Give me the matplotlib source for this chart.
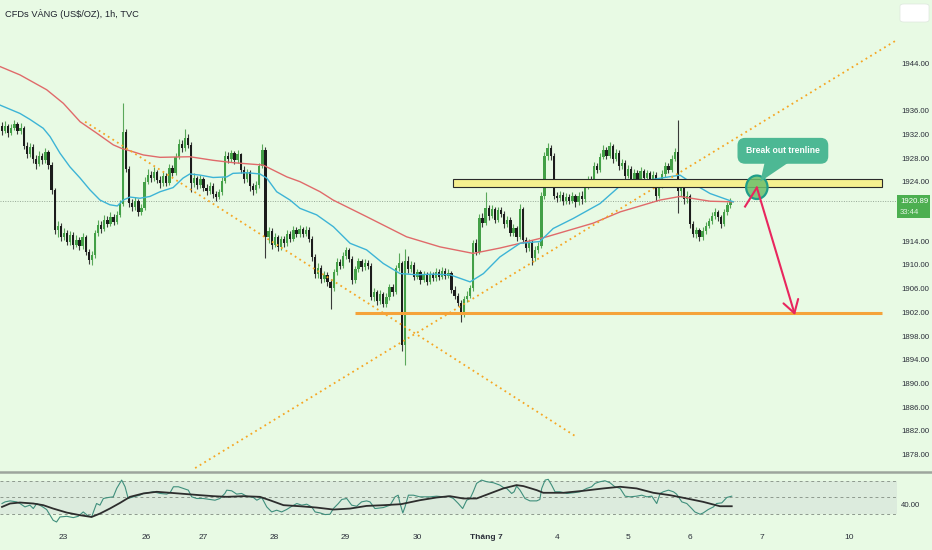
import numpy as np
import matplotlib.pyplot as plt
from matplotlib.patches import Rectangle, Ellipse, FancyBboxPatch, Polygon
from matplotlib.transforms import blended_transform_factory

plt.rcParams['font.family'] = ['Liberation Sans', 'DejaVu Sans']

# ---- hourly candles (index = hour bar) ----
first_open = 1933.6
closes = [
    1932.8, 1933.6, 1932.4, 1933.2, 1933.9, 1932.7, 1933.3, 1930.2, 1928.9, 1930.1,
    1928.0, 1927.1, 1928.6, 1927.8, 1929.2, 1927.0, 1922.8, 1916.0, 1916.8, 1914.9,
    1915.6, 1914.1, 1915.2, 1913.6, 1914.4, 1913.3, 1914.8, 1912.4, 1911.0, 1911.8,
    1915.5, 1916.9, 1916.2, 1917.8, 1917.1, 1918.3, 1917.4, 1918.6, 1920.5, 1932.6,
    1926.4, 1920.6, 1920.0, 1920.9, 1919.0, 1919.8, 1924.2, 1925.4, 1924.8, 1925.8,
    1924.5, 1923.9, 1925.2, 1924.0, 1926.5, 1925.7, 1928.4, 1930.6, 1929.8, 1931.5,
    1930.4, 1924.0, 1924.8, 1923.6, 1924.7, 1923.2, 1922.6, 1923.5, 1922.1, 1921.6,
    1922.4, 1924.3, 1928.6, 1928.0, 1929.0, 1927.8, 1928.8, 1926.2, 1924.6, 1925.8,
    1923.4, 1922.8, 1923.6, 1926.9, 1929.5, 1914.8, 1915.9, 1913.6, 1914.8, 1913.2,
    1914.5, 1913.8, 1915.4, 1914.6, 1916.0, 1915.3, 1916.2, 1915.4, 1916.1, 1914.6,
    1911.5, 1908.6, 1909.7, 1907.8, 1908.5, 1907.3, 1906.2, 1908.9, 1910.7, 1910.0,
    1911.6, 1912.6, 1911.2, 1907.6, 1909.4, 1910.8, 1909.8, 1910.5, 1910.0, 1904.8,
    1905.6, 1904.1, 1905.2, 1903.6, 1904.7, 1906.4, 1905.6, 1909.6, 1910.4, 1896.6,
    1910.9, 1909.4, 1910.2, 1908.2, 1908.9, 1907.6, 1908.5, 1907.3, 1908.6, 1907.9,
    1909.0, 1908.1, 1909.2, 1908.3, 1908.8, 1906.0, 1905.0, 1903.8, 1901.8, 1904.4,
    1905.0, 1906.2, 1913.8, 1912.4, 1918.0, 1917.2, 1919.8, 1918.4, 1919.6, 1917.8,
    1919.4, 1918.8, 1917.0, 1917.8, 1915.6, 1916.4, 1914.8, 1919.6, 1914.4, 1913.0,
    1914.0, 1911.4, 1912.6, 1913.4, 1921.8, 1928.5, 1929.8, 1928.6, 1921.8, 1921.4,
    1922.0, 1920.9, 1921.6, 1921.0, 1921.8, 1920.8, 1921.7, 1921.2, 1923.4, 1924.6,
    1924.0, 1926.8, 1926.2, 1928.4, 1929.5, 1928.6, 1930.2, 1928.0, 1929.1, 1926.8,
    1927.4, 1925.2, 1926.4, 1924.6, 1925.7, 1924.2, 1926.0, 1924.8, 1925.6, 1924.4,
    1925.4, 1921.8, 1923.5, 1925.5, 1926.8, 1926.2, 1928.0, 1929.2, 1922.6, 1923.4,
    1921.2, 1921.8, 1917.0, 1915.4, 1916.0, 1914.8, 1915.9, 1916.8, 1917.5, 1918.4,
    1919.1, 1918.2, 1917.0, 1919.0, 1920.2, 1920.89,
]
highs = [
    1934.3, 1934.4, 1934.0, 1933.9, 1934.6, 1934.3, 1934.1, 1933.6, 1930.9, 1930.8,
    1930.5, 1928.7, 1929.3, 1929.0, 1929.8, 1929.6, 1927.5, 1923.2, 1917.6, 1917.3,
    1916.4, 1916.0, 1915.9, 1915.7, 1915.2, 1914.9, 1915.6, 1915.2, 1912.9, 1912.5,
    1916.1, 1917.8, 1917.5, 1918.5, 1918.4, 1919.0, 1918.8, 1919.3, 1921.1, 1937.4,
    1933.1, 1926.9, 1921.3, 1921.6, 1921.3, 1920.5, 1924.9, 1926.3, 1926.0, 1926.6,
    1926.2, 1925.1, 1925.9, 1925.6, 1927.2, 1927.0, 1929.0, 1931.4, 1931.3, 1933.0,
    1932.2, 1930.9, 1925.6, 1925.2, 1925.3, 1925.0, 1923.8, 1924.1, 1923.9, 1922.7,
    1923.0, 1925.0, 1929.3, 1929.2, 1929.6, 1929.4, 1929.5, 1929.1, 1926.8, 1926.4,
    1926.1, 1924.0, 1924.3, 1927.4, 1930.6, 1930.0, 1916.6, 1916.3, 1915.5, 1915.2,
    1915.1, 1915.0, 1916.1, 1915.9, 1916.7, 1916.5, 1916.9, 1916.6, 1916.8, 1916.5,
    1915.0, 1912.0, 1910.4, 1910.1, 1909.2, 1908.9, 1907.8, 1909.5, 1911.3, 1911.2,
    1912.3, 1913.2, 1913.0, 1911.6, 1910.0, 1911.4, 1911.2, 1911.1, 1911.0, 1910.4,
    1906.3, 1906.0, 1905.9, 1905.6, 1905.4, 1907.0, 1906.9, 1910.2, 1912.1, 1910.9,
    1912.9, 1911.6, 1910.8, 1910.6, 1909.5, 1909.3, 1909.1, 1908.9, 1909.2, 1909.0,
    1909.6, 1909.4, 1909.8, 1909.6, 1909.4, 1909.2, 1906.6, 1905.5, 1904.3, 1905.0,
    1905.7, 1906.8, 1914.4, 1914.6, 1918.8, 1918.9, 1922.5, 1920.3, 1920.2, 1920.0,
    1920.0, 1919.9, 1919.2, 1918.4, 1918.2, 1917.0, 1916.8, 1920.4, 1919.9, 1914.9,
    1914.6, 1914.4, 1913.3, 1914.1, 1922.4, 1929.2, 1930.8, 1930.3, 1929.0, 1922.4,
    1922.7, 1922.4, 1922.3, 1922.1, 1922.5, 1922.2, 1922.4, 1922.6, 1924.0, 1925.2,
    1925.1, 1927.5, 1927.4, 1929.0, 1930.3, 1930.0, 1930.9, 1930.6, 1929.7, 1929.5,
    1928.1, 1927.8, 1927.0, 1926.8, 1926.3, 1926.1, 1926.6, 1926.4, 1926.2, 1926.0,
    1926.0, 1925.8, 1924.1, 1926.1, 1927.5, 1927.4, 1928.7, 1929.9, 1934.6, 1924.0,
    1923.8, 1922.6, 1922.2, 1917.5, 1916.6, 1916.4, 1916.5, 1917.4, 1918.1, 1919.0,
    1919.7, 1919.5, 1918.6, 1919.6, 1920.8, 1921.4,
]
lows = [
    1932.1, 1932.4, 1931.8, 1932.0, 1932.9, 1932.2, 1932.3, 1929.7, 1928.2, 1928.4,
    1927.4, 1926.3, 1926.8, 1927.2, 1927.4, 1926.4, 1922.2, 1915.3, 1914.9, 1914.2,
    1914.3, 1913.5, 1913.6, 1912.9, 1913.1, 1912.7, 1912.9, 1911.8, 1910.3, 1910.1,
    1911.4, 1915.0, 1915.6, 1915.8, 1916.5, 1916.7, 1916.9, 1917.0, 1918.2, 1920.1,
    1925.8, 1920.0, 1919.3, 1919.4, 1918.4, 1918.6, 1919.4, 1923.8, 1924.1, 1924.3,
    1923.9, 1923.2, 1923.5, 1923.4, 1923.6, 1925.1, 1925.3, 1928.0, 1929.2, 1929.4,
    1929.8, 1922.5, 1923.3, 1923.0, 1923.1, 1922.6, 1921.9, 1922.2, 1921.5, 1920.9,
    1921.2, 1922.0, 1924.0, 1927.3, 1927.5, 1927.2, 1927.4, 1925.6, 1924.0, 1924.1,
    1922.7, 1922.0, 1922.3, 1923.2, 1926.5, 1911.3, 1913.9, 1912.8, 1913.1, 1912.5,
    1912.7, 1913.2, 1913.4, 1914.0, 1914.2, 1914.8, 1914.9, 1914.8, 1915.0, 1914.0,
    1910.9, 1907.9, 1908.0, 1907.1, 1907.2, 1906.6, 1902.7, 1905.8, 1908.4, 1909.4,
    1909.6, 1911.1, 1910.6, 1907.0, 1907.1, 1909.0, 1909.2, 1909.3, 1909.4, 1904.2,
    1904.1, 1903.4, 1903.6, 1903.0, 1903.1, 1904.2, 1905.0, 1905.2, 1909.1, 1895.6,
    1893.3, 1908.8, 1908.9, 1907.6, 1907.7, 1907.0, 1907.2, 1906.8, 1906.9, 1907.4,
    1907.5, 1907.6, 1907.8, 1907.8, 1907.9, 1905.4, 1904.4, 1903.2, 1900.5, 1901.4,
    1903.9, 1904.6, 1905.8, 1911.8, 1912.0, 1916.6, 1916.9, 1917.8, 1918.0, 1917.2,
    1917.4, 1918.2, 1916.4, 1916.5, 1915.0, 1915.1, 1914.2, 1914.5, 1913.8, 1912.4,
    1912.5, 1910.1, 1910.8, 1912.2, 1913.0, 1921.2, 1927.9, 1927.9, 1921.2, 1920.7,
    1920.9, 1920.3, 1920.4, 1920.4, 1920.6, 1919.9, 1920.3, 1920.5, 1920.8, 1922.9,
    1923.4, 1923.6, 1925.6, 1925.8, 1928.0, 1928.0, 1928.2, 1927.4, 1927.6, 1926.2,
    1926.3, 1924.6, 1924.8, 1924.0, 1924.2, 1923.6, 1923.8, 1924.2, 1924.3, 1923.8,
    1924.0, 1921.0, 1921.4, 1923.1, 1925.0, 1925.6, 1925.8, 1927.6, 1918.9, 1921.8,
    1920.5, 1920.6, 1916.4, 1914.8, 1914.7, 1914.2, 1914.4, 1915.4, 1916.3, 1917.1,
    1917.9, 1917.6, 1916.4, 1916.7, 1918.6, 1919.8,
]

# ---- moving averages (read at bar positions) ----
ma_slow_x = [-0.6, 5.8, 14.4, 19.8, 25.2, 30.5, 35.9, 38.6, 41.3, 45.6, 51.0, 60.6, 68.1,
             74.5, 84.2, 91.9, 96.1, 102.6, 106.8, 117.6, 130.5, 141.3, 152.0, 160.6,
             167.1, 175.7, 190.7, 199.4, 212.3, 218.7, 228.4, 235.8]
ma_slow_y = [1943.6, 1942.2, 1939.7, 1937.4, 1934.3, 1932.4, 1930.4, 1929.8, 1929.4, 1928.7,
             1928.3, 1928.4, 1927.8, 1927.4, 1927.0, 1925.0, 1924.2, 1922.5, 1921.1, 1918.3,
             1914.9, 1913.2, 1912.1, 1913.0, 1913.8, 1914.9, 1917.2, 1919.1, 1921.1, 1921.7,
             1920.9, 1920.8]
ma_fast_x = [-0.6, 5.8, 9.0, 13.3, 15.5, 18.7, 21.9, 25.2, 28.4, 31.6, 34.8, 37.2, 39.1,
             41.3, 44.5, 47.7, 51.0, 55.2, 58.4, 60.6, 63.9, 68.1, 72.5, 74.5, 79.0, 83.2,
             85.4, 88.6, 92.9, 96.1, 101.5, 106.9, 112.3, 117.6, 123.0, 128.4, 133.8,
             139.1, 144.5, 151.0, 155.3, 160.6, 167.1, 173.5, 177.8, 184.3, 192.9, 199.4,
             209.0, 218.7, 221.9, 228.4, 235.9]
ma_fast_y = [1937.1, 1935.7, 1934.7, 1933.2, 1931.8, 1929.0, 1926.7, 1924.8, 1922.8, 1921.1,
             1920.3, 1920.1, 1921.1, 1921.6, 1921.4, 1921.7, 1922.5, 1923.2, 1924.8, 1925.5,
             1925.3, 1924.9, 1925.0, 1925.6, 1925.7, 1925.5, 1924.8, 1922.5, 1921.1, 1919.7,
             1918.6, 1916.6, 1913.8, 1912.7, 1910.4, 1908.7, 1908.5, 1908.6, 1908.5, 1907.3,
             1908.7, 1911.5, 1913.8, 1914.1, 1916.3, 1918.0, 1920.5, 1923.5, 1924.5, 1925.3,
             1924.2, 1922.2, 1920.8]

# ---- RSI pane ----
rsi_x = [0, 1.0, 2.6, 4.7, 5.8, 7.4, 9.0, 10.1, 11.2, 12.8, 14.4, 15.5, 16.5, 17.6, 18.7,
         20.9, 23.0, 24.6, 26.2, 27.5, 28.9, 30.5, 31.6, 32.7, 34.3, 35.9, 37.0, 38.6,
         39.7, 40.7, 42.4, 44.5, 45.6, 47.2, 48.8, 51.0, 53.1, 54.2, 55.3, 56.9, 58.5,
         60.1, 61.2, 62.8, 64.9, 67.1, 68.7, 70.3, 71.9, 72.5, 74.1, 75.7, 77.3, 78.9,
         81.1, 82.2, 83.8, 85.4, 87.0, 88.6, 90.2, 91.8, 93.5, 95.1, 96.7, 98.3, 99.9,
         101.0, 102.6, 104.2, 105.8, 106.9, 108.5, 109.6, 111.2, 112.8, 114.4, 116.0,
         117.6, 118.7, 120.3, 123.0, 125.2, 126.8, 127.8, 128.4, 129.3, 130.0, 131.1,
         132.7, 134.8, 138.1, 140.2, 142.4, 144.0, 145.6, 147.2, 148.6, 149.9, 151.0,
         152.0, 153.1, 154.7, 156.4, 158.5, 160.6, 161.7, 162.8, 164.4, 165.2, 166.0,
         167.1, 168.7, 170.3, 172.5, 173.5, 174.1, 175.2, 176.2, 177.3, 178.4, 180.0,
         182.2, 184.3, 186.5, 188.6, 190.2, 191.3, 192.9, 194.5, 196.1, 197.7, 199.4,
         201.0, 202.6, 204.7, 206.4, 208.0, 209.6, 211.2, 212.3, 213.3, 215.0, 216.6,
         217.6, 219.3, 220.9, 222.5, 223.5, 225.2, 226.2, 227.8, 229.5, 230.5, 232.2,
         233.8, 235.4]
rsi_y = [42.7, 44.7, 45.9, 44.7, 42.7, 38.6, 40.7, 36.6, 42.7, 39.4, 35.4, 28.5, 22.4, 20.3,
         26.4, 27.2, 25.6, 27.2, 32.5, 28.5, 26.4, 42.7, 40.7, 48.8, 50.0, 50.8, 61.0, 71.1,
         63.0, 48.8, 50.8, 52.8, 54.9, 55.7, 56.9, 54.9, 54.1, 55.7, 63.0, 63.0, 61.0,
         58.9, 50.8, 48.8, 48.8, 47.6, 46.7, 48.8, 54.9, 58.9, 58.1, 54.1, 54.9, 51.6,
         50.0, 46.7, 50.0, 38.6, 32.5, 34.6, 32.5, 35.4, 39.4, 42.7, 40.7, 41.9, 38.6,
         32.5, 31.3, 29.3, 29.7, 36.6, 42.7, 47.6, 48.8, 40.7, 39.4, 44.7,
         45.9, 44.7, 36.6, 37.8, 40.7, 50.8, 52.8, 42.7, 31.3, 38.6, 52.8,
         52.8, 50.8, 50.8, 51.6, 50.8, 51.6, 48.8, 42.7, 36.6, 46.7, 48.8,
         56.9, 67.1, 71.1, 69.1, 67.9, 65.0, 62.2, 61.0, 54.9, 56.9, 63.8,
         58.9, 48.8, 45.9, 45.9, 47.6, 61.0, 71.1, 72.0, 65.0, 56.9, 56.9,
         54.9, 55.7, 56.9, 61.0, 63.0, 67.1, 69.1, 70.3, 67.9, 63.0, 61.0,
         51.6, 50.8, 51.6, 52.8, 50.8, 51.6, 42.7, 54.9, 56.9, 58.9, 56.9,
         54.1, 44.7, 42.7, 36.6, 32.5, 29.7, 31.3, 35.4, 38.6, 42.7, 43.5,
         50.0, 51.6]
rsi_ma_x = [0, 2.6, 5.8, 10.1, 13.3, 16.5, 20.9, 25.2, 28.9, 31.6, 34.8, 38.1, 41.3, 45.6,
            49.9, 54.2, 59.6, 63.9, 68.2, 72.5, 77.8, 83.2, 86.4, 90.8, 96.1, 101.5, 106.9,
            112.3, 117.6, 123.3, 128.7, 134.8, 140.2, 144.5, 148.8, 153.1, 157.4, 161.7,
            166.0, 168.2, 172.5, 174.6, 181.1, 187.5, 194.0, 199.4, 204.7, 210.1, 215.5,
            220.9, 226.2, 231.6, 235.4]
rsi_ma_y = [38.6, 42.7, 43.9, 42.7, 40.7, 36.6, 31.7, 28.5, 26.4, 30.5, 36.6, 43.5, 50.8, 54.9,
            56.9, 55.7, 54.1, 52.8, 51.6, 50.8, 51.6, 50.8, 46.7, 40.7, 39.4, 37.8, 35.4,
            36.6, 39.8, 40.7, 41.9, 46.7, 50.0, 51.6, 48.8, 48.8, 54.9, 61.0,
            65.0, 63.8, 58.9, 55.7, 55.7, 58.1, 61.0, 63.0, 61.0, 55.7, 52.8,
            48.8, 44.7, 39.4, 39.4]

day_pos = [19.7, 46.5, 64.8, 87.7, 110.6, 133.9, 156.1, 179.0, 201.9, 221.9, 245.2, 273.2]
day_labels = ['23', '26', '27', '28', '29', '30', 'Tháng 7', '4', '5', '6', '7', '10']
price_ticks = [1944, 1936, 1932, 1928, 1924, 1914, 1910, 1906, 1902, 1898, 1894, 1890, 1886, 1882, 1878]
last_price = 1920.89
countdown = '33:44'

# ---- drawings (bar index, price) ----
zone_x = [145.4, 283.8]
zone_y = [1923.35, 1924.65]
support_x = [113.9, 283.8]
support_y = 1902.0
trend_up_x, trend_up_y = [62.3, 288.7], [1875.9, 1948.1]
trend_dn_x, trend_dn_y = [26.8, 185.5], [1934.3, 1881.1]
arrow_x, arrow_y = [239.7, 243.5, 255.8], [1920.0, 1923.2, 1901.7]
circle_xy = (243.5, 1923.25)
note_xy = (251.9, 1929.4)
pointer_x, pointer_y = [246.1, 254.2, 244.6], [1927.6, 1927.6, 1924.2]

BG = '#e8fae4'
W, H = 932, 550
XL = (-0.645, 300.0)
AX_FS = 5.6

fig = plt.figure(figsize=(W / 100, H / 100), dpi=100, facecolor=BG)

ax = fig.add_axes([0, 78 / H, 1, 472 / H])
ax.set_facecolor(BG)
ax.set_xlim(*XL)
ax.set_ylim(1875.24, 1954.83)
for s in ax.spines.values():
    s.set_visible(False)
ax.set_xticks([])
ax.set_yticks([])

n = min(len(closes), len(highs), len(lows))
c = np.array(closes[:n])
o = np.array([first_open] + closes[:n - 1])
hi = np.maximum(np.array(highs[:n]), np.maximum(o, c))
lo = np.minimum(np.array(lows[:n]), np.minimum(o, c))
x = np.arange(n)
up = c >= o

ax.vlines(x, lo, hi, colors=np.where(up, '#5aa85a', '#3a3a3a'), lw=0.8, zorder=2)
ax.bar(x, np.maximum(np.abs(c - o), 0.12), bottom=np.minimum(o, c), width=0.72,
       color=np.where(up, '#43a047', '#1c1c1c'), linewidth=0, zorder=3)

ax.plot([XL[0], 288.7], [last_price, last_price], color='#97a897', lw=0.7,
        ls=(0, (1, 1.5)), zorder=1)
ax.plot(ma_slow_x, ma_slow_y, color='#e06a6a', lw=1.0, zorder=4)
ax.plot(ma_fast_x, ma_fast_y, color='#3db4d6', lw=1.0, zorder=4)
ax.plot(trend_up_x, trend_up_y, color='#f5a623', lw=1.3, ls=(0, (1, 2)), zorder=4)
ax.plot(trend_dn_x, trend_dn_y, color='#f5a623', lw=1.3, ls=(0, (1, 2)), zorder=4)

ax.add_patch(Rectangle((zone_x[0], zone_y[0]), zone_x[1] - zone_x[0], zone_y[1] - zone_y[0],
                       fc='#f6f08f', ec='#2b2b2b', lw=0.8, zorder=5))
ax.plot(support_x, [support_y, support_y], color='#f5a33a', lw=2.2,
        solid_capstyle='butt', zorder=5)

ax.add_patch(Ellipse(circle_xy, 6.9, 3.95, fc=(0.42, 0.75, 0.42, 0.85), ec='#1f9e89',
                     lw=1.6, zorder=6))
ax.plot(arrow_x[:2], arrow_y[:2], color='#e8265e', lw=1.5, zorder=7)
ax.annotate('', xy=(arrow_x[2], arrow_y[2]), xytext=(arrow_x[1], arrow_y[1]),
            arrowprops=dict(arrowstyle='->,head_length=0.9,head_width=0.55',
                            color='#e8265e', lw=1.5, shrinkA=0, shrinkB=0), zorder=7)

ax.add_patch(Polygon(list(zip(pointer_x, pointer_y)), closed=True, fc='#4db894',
                     ec='none', zorder=8))
ax.text(note_xy[0], note_xy[1], 'Break out trenline', color='white', fontsize=6.2,
        fontweight='bold', ha='center', va='center', zorder=9,
        bbox=dict(boxstyle='round,pad=0.9,rounding_size=0.8', fc='#4db894', ec='#4db894'))

trans = blended_transform_factory(ax.transAxes, ax.transData)
for p in price_ticks:
    ax.text(901 / W, p, f'{p:.2f}', transform=trans, ha='left', va='center',
            fontsize=AX_FS, color='#2a2e39')
ax.add_patch(Rectangle((897 / W, 1918.07), 33 / W, 3.88, transform=trans,
                       fc='#4caf50', ec='none', zorder=8, clip_on=False))
ax.text(900 / W, last_price, f'{last_price:.2f}', transform=trans, ha='left',
        va='center', fontsize=AX_FS, color='white', zorder=9)
ax.text(900 / W, 1918.96, countdown, transform=trans, ha='left', va='center',
        fontsize=AX_FS, color='#dff3df', zorder=9)

fig.text(5 / W, 1 - 14 / H, 'CFDs VÀNG (US$/OZ), 1h, TVC', fontsize=6.7,
         va='center', color='#1e222d')
fig.patches.append(FancyBboxPatch((900 / W, 528 / H), 29 / W, 18 / H,
                                  boxstyle='round,pad=0,rounding_size=0.004',
                                  transform=fig.transFigure, fc='white',
                                  ec='#dde6dd', lw=0.5))

# RSI pane
rax = fig.add_axes([0, 24 / H, 1, 54 / H])
rax.set_facecolor('none')
rax.set_xlim(*XL)
rax.set_ylim(15.45, 80.9)
rax.fill_between([XL[0], 288.7], 30, 70, color='#dcebdd', lw=0, zorder=0)
for lvl in (30, 50, 70):
    rax.plot([XL[0], 288.7], [lvl, lvl], color='#8e9a8e', lw=0.7, ls=(0, (3, 3)), zorder=1)
rax.plot(rsi_x, rsi_y, color='#3f8f7c', lw=0.8, zorder=3)
rax.plot(rsi_ma_x, rsi_ma_y, color='#2d2d2d', lw=1.3, zorder=3)
for k, s in rax.spines.items():
    s.set_visible(k == 'top')
rax.spines['top'].set_color('#9da59d')
rax.spines['top'].set_linewidth(1.8)
rax.set_yticks([])
rax.set_xticks(day_pos)
rax.set_xticklabels(day_labels)
rax.tick_params(axis='x', length=0, pad=6, labelsize=6.0, colors='#2a2e39')
for lbl in rax.get_xticklabels():
    if lbl.get_text().startswith('Tháng'):
        lbl.set_fontweight('bold')
rtrans = blended_transform_factory(rax.transAxes, rax.transData)
rax.text(901 / W, 40, '40.00', transform=rtrans, ha='left', va='center',
         fontsize=AX_FS, color='#2a2e39')

fig.savefig('out.png', dpi=100, facecolor=BG)
